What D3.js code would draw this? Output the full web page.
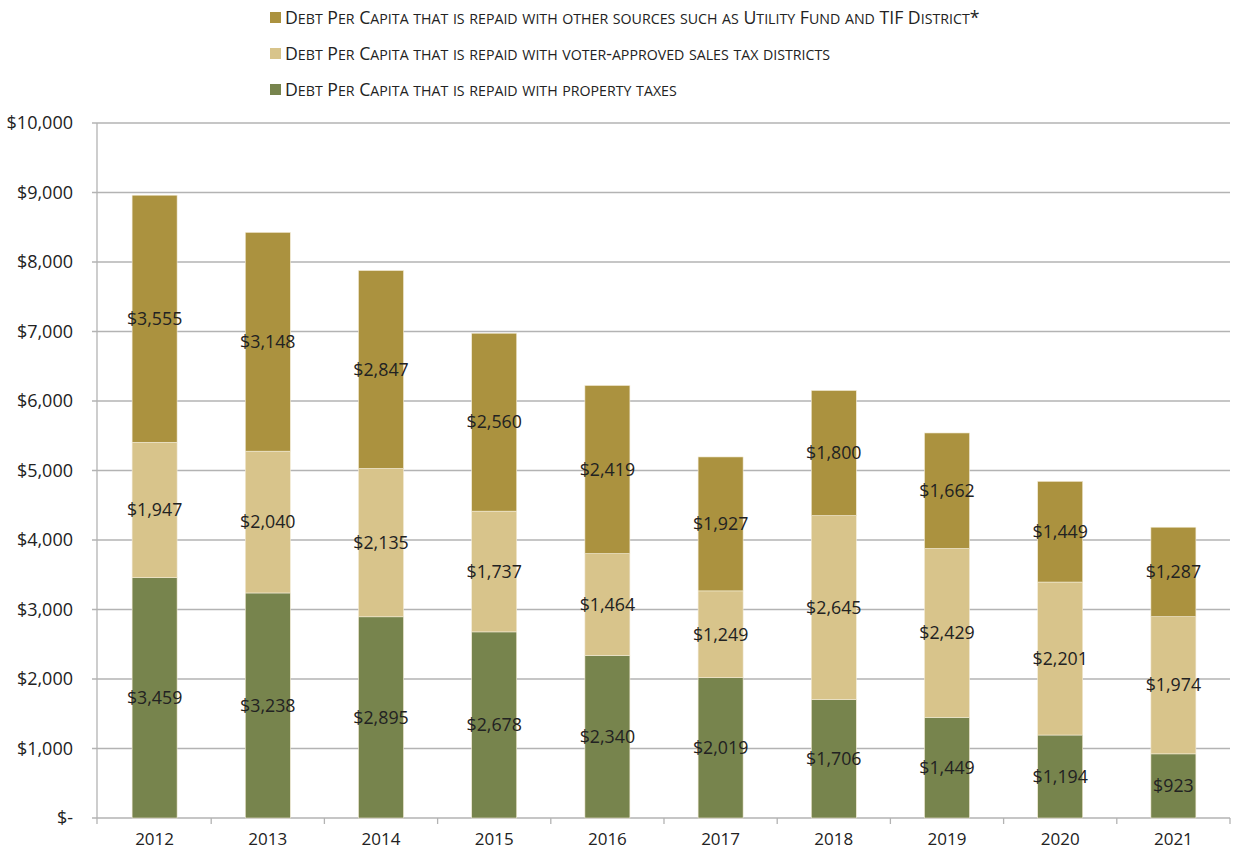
<!DOCTYPE html>
<html><head><meta charset="utf-8">
<script src="https://cdn.jsdelivr.net/npm/d3@7"></script>
<style>
body{margin:0;background:#fff;}
text{font-family:"Open Sans","Noto Sans",sans-serif;}
</style></head>
<body><svg id="c" width="1236" height="855"></svg>
<script>
const years = ["2012","2013","2014","2015","2016","2017","2018","2019","2020","2021"];
const property = [3459,3238,2895,2678,2340,2019,1706,1449,1194,923];
const salesTax = [1947,2040,2135,1737,1464,1249,2645,2429,2201,1974];
const other = [3555,3148,2847,2560,2419,1927,1800,1662,1449,1287];
const seriesNames = [
  "Debt Per Capita that is repaid with property taxes",
  "Debt Per Capita that is repaid with voter-approved sales tax districts",
  "Debt Per Capita that is repaid with other sources such as Utility Fund and TIF District*"
];
const colors = ["#77844D","#D8C48B","#AB923F"];
const yTicks = [0,1000,2000,3000,4000,5000,6000,7000,8000,9000,10000];

const svg = d3.select("#c");
const m = {l:98, r:1230, t:123, b:818};
const xb = d3.scaleBand().domain(years).range([m.l, m.r]);
const y = d3.scaleLinear().domain([0,10000]).range([m.b, m.t]);

// gridlines
svg.append("g").selectAll("line").data(yTicks).join("line")
  .attr("x1", m.l-6).attr("x2", m.r).attr("y1", d=>y(d)).attr("y2", d=>y(d))
  .attr("stroke", "#b3b3b3").attr("stroke-width", 1.3);
// y axis line
svg.append("line").attr("x1", m.l-1).attr("x2", m.l-1).attr("y1", m.t).attr("y2", m.b+6)
  .attr("stroke","#b3b3b3").attr("stroke-width",1.3);
// x ticks at band boundaries
const bounds = years.slice(1).map(d=>xb(d)).concat([m.r]);
svg.append("g").selectAll("line").data(bounds).join("line")
  .attr("x1", d=>d).attr("x2", d=>d)
  .attr("y1", m.b).attr("y2", m.b+6).attr("stroke","#b3b3b3").attr("stroke-width",1.3);

const fmt = d3.format(",");
svg.append("g").selectAll("text").data(yTicks).join("text")
  .attr("x", 73).attr("y", d=>y(d)).attr("dy","0.35em").attr("text-anchor","end")
  .attr("font-size", 18).attr("fill","#222")
  .text(d=> d===0 ? "$-" : "$"+fmt(d));

svg.append("g").selectAll("text").data(years).join("text")
  .attr("x", d=>xb(d)+xb.bandwidth()/2).attr("y", 845).attr("text-anchor","middle")
  .attr("font-size", 17).attr("fill","#222").text(d=>d);

const data = years.map((yr,i)=>({year:yr, a:property[i], b:salesTax[i], c:other[i]}));
const stack = d3.stack().keys(["a","b","c"])(data);
const bw = 45;
stack.forEach((s,si)=>{
  const g = svg.append("g");
  g.selectAll("rect").data(s).join("rect")
    .attr("x", d=>xb(d.data.year)+xb.bandwidth()/2-bw/2).attr("width", bw)
    .attr("y", d=>y(d[1])).attr("height", d=>y(d[0])-y(d[1]))
    .attr("fill", colors[si]).attr("stroke","#f3ecd6").attr("stroke-width",0.6);
  g.selectAll("text").data(s).join("text")
    .attr("x", d=>xb(d.data.year)+xb.bandwidth()/2).attr("y", d=>y((d[0]+d[1])/2)).attr("dy","0.35em")
    .attr("text-anchor","middle").attr("font-size",17.8).attr("fill","#222")
    .text(d=>"$"+fmt(d[1]-d[0]));
});

// legend (top to bottom: other, sales, property) with manual small caps
function smallCaps(sel, str){
  const runs = [];
  for (const ch of str){
    const isLower = ch !== ch.toUpperCase();
    const big = !isLower;
    if (runs.length && runs[runs.length-1].big === big) runs[runs.length-1].t += ch;
    else runs.push({big, t: ch});
  }
  runs.forEach(r=>{
    sel.append("tspan").attr("font-size", r.big ? 17.7 : 14.2).text(r.big ? r.t : r.t.toUpperCase());
  });
}
const legOrder = [2,1,0];
const lg = svg.append("g");
legOrder.forEach((si,k)=>{
  const yy = 18 + k*36;
  lg.append("rect").attr("x",270).attr("y",yy-6).attr("width",11).attr("height",11).attr("fill",colors[si]);
  const t = lg.append("text").attr("x",285).attr("y",yy+6).attr("fill","#222");
  smallCaps(t, seriesNames[si]);
});
</script></body></html>
